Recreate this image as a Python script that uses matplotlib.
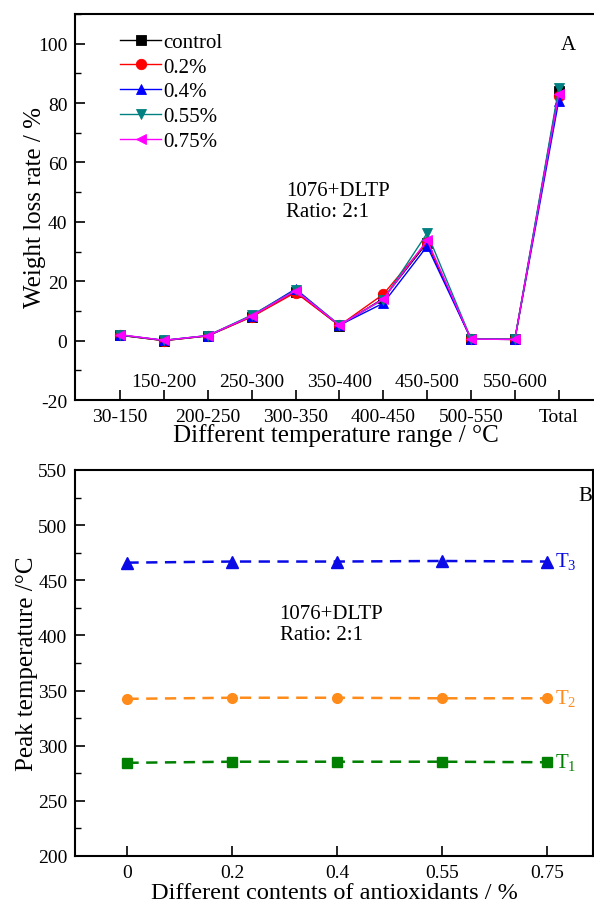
import matplotlib
matplotlib.use("Agg")
import matplotlib.pyplot as plt
from matplotlib.ticker import MultipleLocator
import matplotlib.transforms as mtransforms

plt.rcParams['font.family'] = ['Liberation Serif', 'DejaVu Serif']
plt.rcParams['mathtext.fontset'] = 'custom'
plt.rcParams['mathtext.rm'] = 'Liberation Serif'
plt.rcParams['axes.unicode_minus'] = False

# ---- Panel A data: weight loss rate per temperature range ----
ranges = ["30-150", "150-200", "200-250", "250-300", "300-350", "350-400",
          "400-450", "450-500", "500-550", "550-600", "Total"]
series_names = ["control", "0.2%", "0.4%", "0.55%", "0.75%"]
control = [1.8, 0.0, 1.6, 8.1, 16.5, 5.0, 14.2, 33.0, 0.5, 0.4, 84.0]
p02 = [1.8, 0.0, 1.6, 8.0, 16.2, 5.1, 15.6, 33.2, 0.5, 0.4, 82.5]
p04 = [1.9, 0.1, 1.7, 8.4, 17.4, 5.2, 12.6, 31.8, 0.5, 0.4, 80.8]
p055 = [1.9, 0.1, 1.7, 8.6, 17.0, 5.3, 13.8, 36.2, 0.6, 0.5, 85.0]
p075 = [2.0, 0.1, 1.7, 8.3, 16.8, 5.2, 14.0, 33.8, 0.5, 0.4, 82.9]
series_vals = [control, p02, p04, p055, p075]
series_colors = ["#000000", "#ff0000", "#0000ff", "#008080", "#ff00ff"]
series_markers = ["s", "o", "^", "v", "<"]

# ---- Panel B data: peak temperatures vs antioxidant content ----
contents = ["0", "0.2", "0.4", "0.55", "0.75"]
T1 = [284.5, 285.5, 285.5, 285.5, 285.0]
T2 = [342.5, 343.5, 343.5, 343.0, 343.0]
T3 = [466.0, 467.0, 467.0, 467.5, 467.0]

W, H = 594, 904
fig = plt.figure(figsize=(W / 100, H / 100), dpi=100)

def px_axes(left, top, right, bottom):
    return fig.add_axes([left / W, 1 - bottom / H, (right - left) / W, (bottom - top) / H])

tick_fs = 14
label_fs = 18
note_fs = 15

# ================= Panel A =================
axA = px_axes(75, 15, 596, 401)
xA = list(range(len(ranges)))
for name, vals, c, m in zip(series_names, series_vals, series_colors, series_markers):
    axA.plot(xA, vals, color=c, marker=m, markersize=7.5, linewidth=1.0,
             markeredgewidth=0.6, label=name)

axA.set_xlim(-1.03, 10.85)
axA.set_ylim(-20, 110)
axA.yaxis.set_major_locator(MultipleLocator(20))
axA.yaxis.set_minor_locator(MultipleLocator(10))
axA.set_xticks(xA)
# alternate ranges: even ones under the axis, odd ones just inside it
axA.set_xticklabels([lab if i % 2 == 0 else "" for i, lab in enumerate(ranges)])
trans = mtransforms.blended_transform_factory(axA.transData, axA.transAxes)
for i, lab in enumerate(ranges):
    if i % 2 == 1:
        axA.text(i, 0.047, lab, transform=trans, ha="center", va="center", fontsize=tick_fs)

axA.set_ylabel("Weight loss rate / %", fontsize=label_fs, labelpad=-6)
axA.set_xlabel("Different temperature range / °C", fontsize=label_fs, labelpad=-1)
axA.text(0.405, 0.515, "1076+DLTP\nRatio: 2:1", transform=axA.transAxes,
         fontsize=note_fs, ha="left", va="center", linespacing=1.15)
axA.text(0.946, 0.92, "A", transform=axA.transAxes, fontsize=note_fs, ha="center", va="center")
axA.legend(loc="upper left", bbox_to_anchor=(0.062, 0.985), frameon=False,
           fontsize=15, handlelength=2.0, handletextpad=0.1,
           labelspacing=0.25, borderaxespad=0.2)

# ================= Panel B =================
axB = px_axes(75, 471, 593, 857)
xB = list(range(len(contents)))
dash = (0, (4.5, 3))
axB.plot(xB, T3, color="#0a0ae6", marker="^", markersize=8, linestyle=dash, linewidth=1.8)
axB.plot(xB, T2, color="#ff8c1a", marker="o", markersize=7, linestyle=dash, linewidth=1.8)
axB.plot(xB, T1, color="#008000", marker="s", markersize=7, linestyle=dash, linewidth=1.8)

axB.set_xlim(-0.5, 4.44)
axB.set_ylim(200, 550)
axB.yaxis.set_major_locator(MultipleLocator(50))
axB.yaxis.set_minor_locator(MultipleLocator(25))
axB.set_xticks(xB)
axB.set_xticklabels(contents)
axB.set_ylabel("Peak temperature /°C", fontsize=label_fs, labelpad=0)
axB.set_xlabel("Different contents of antioxidants / %", fontsize=17.5, labelpad=1)

for vals, c, sub in [(T3, "#0a0ae6", "3"), (T2, "#ff8c1a", "2"), (T1, "#008000", "1")]:
    axB.text(4.08, vals[-1], r"T$_\mathregular{" + sub + "}$", color=c,
             fontsize=note_fs, ha="left", va="center")
axB.text(0.395, 0.6, "1076+DLTP\nRatio: 2:1", transform=axB.transAxes,
         fontsize=note_fs, ha="left", va="center", linespacing=1.15)
axB.text(0.985, 0.935, "B", transform=axB.transAxes, fontsize=note_fs, ha="center", va="center")

for ax in (axA, axB):
    for s in ax.spines.values():
        s.set_linewidth(1.5)
    ax.tick_params(axis="both", which="major", direction="in", length=7, width=1.2,
                   labelsize=tick_fs, top=False, right=False, pad=5.5)
    ax.tick_params(axis="both", which="minor", direction="in", length=4, width=1.0,
                   top=False, right=False)
    ax.tick_params(axis="x", which="minor", bottom=False)

fig.savefig("out.png", dpi=100)
